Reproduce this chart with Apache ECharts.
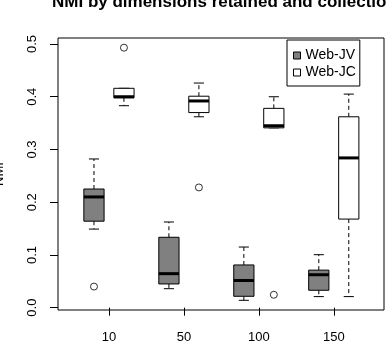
<!DOCTYPE html>
<html>
<head>
<meta charset="utf-8">
<script src="https://cdn.jsdelivr.net/npm/echarts@6/dist/echarts.min.js"></script>
<style>
  html, body { margin: 0; padding: 0; background: #fff; }
  #chart { width: 387px; height: 354px; }
</style>
</head>
<body>
<div id="chart"></div>
<script>
// dimensions retained (x groups)
const categories = ['10', '50', '100', '150'];
const yTicks = [0, 0.1, 0.2, 0.3, 0.4, 0.5];

// box stats per group: [lower whisker, Q1, median, Q3, upper whisker]
const jvStats = [
  [0.149, 0.164, 0.210, 0.225, 0.282],
  [0.036, 0.045, 0.0645, 0.1335, 0.1625],
  [0.014, 0.0216, 0.0515, 0.081, 0.115],
  [0.021, 0.033, 0.0625, 0.0712, 0.1005]
];
const jcStats = [
  [0.383, 0.398, 0.400, 0.416, 0.416],
  [0.362, 0.370, 0.392, 0.401, 0.426],
  [0.341, 0.341, 0.345, 0.378, 0.400],
  [0.021, 0.168, 0.284, 0.362, 0.405]
];
// outliers: [group index, value]
const jvOutliers = [[0, 0.040]];
const jcOutliers = [[0, 0.493], [1, 0.228], [2, 0.0245]];

const offset = 0.2;
const boxWidth = 0.27;

const chart = echarts.init(document.getElementById('chart'));

const boxData = (stats, dx) => stats.map((s, i) => [i + 1 + dx, ...s]);
const outData = (list, dx) => list.map(o => [o[0] + 1 + dx, o[1]]);

function renderBox(fill) {
  return (params, api) => {
    const x = api.value(0);
    const lo = api.coord([x, api.value(1)]);
    const q1 = api.coord([x, api.value(2)]);
    const md = api.coord([x, api.value(3)]);
    const q3 = api.coord([x, api.value(4)]);
    const hi = api.coord([x, api.value(5)]);
    const w = api.size([boxWidth, 0])[0];
    const cx = lo[0];
    const dash = { stroke: '#000', lineWidth: 1, lineDash: [4, 3] };
    const solid = { stroke: '#000', lineWidth: 1 };
    return {
      type: 'group',
      children: [
        { type: 'line', shape: { x1: cx, y1: q3[1], x2: cx, y2: hi[1] }, style: dash },
        { type: 'line', shape: { x1: cx, y1: q1[1], x2: cx, y2: lo[1] }, style: dash },
        { type: 'line', shape: { x1: cx - w / 4, y1: hi[1], x2: cx + w / 4, y2: hi[1] }, style: solid },
        { type: 'line', shape: { x1: cx - w / 4, y1: lo[1], x2: cx + w / 4, y2: lo[1] }, style: solid },
        { type: 'rect', shape: { x: cx - w / 2, y: q3[1], width: w, height: q1[1] - q3[1] },
          style: { fill: fill, stroke: '#000', lineWidth: 1 } },
        { type: 'line', shape: { x1: cx - w / 2, y1: md[1], x2: cx + w / 2, y2: md[1] },
          style: { stroke: '#000', lineWidth: 3 } }
      ]
    };
  };
}

const font = 'Liberation Sans';

const option = {
  animation: false,
  grid: {
    left: 58, top: 38, width: 326, height: 272,
    show: true, borderColor: '#000', borderWidth: 1, backgroundColor: 'transparent'
  },
  xAxis: {
    type: 'value',
    min: 0.32, max: 4.67,
    splitLine: { show: false },
    axisLine: { show: false },
    axisTick: { show: true, inside: false, length: 8, lineStyle: { color: '#000' }, customValues: [1, 2, 3, 4] },
    axisLabel: {
      customValues: [1, 2, 3, 4],
      formatter: v => categories[Math.round(v) - 1],
      color: '#000', fontFamily: font, fontSize: 13, margin: 21
    }
  },
  yAxis: {
    type: 'value',
    min: -0.0044, max: 0.5114,
    splitLine: { show: false },
    axisLine: { show: false },
    axisTick: { show: true, inside: false, length: 8, lineStyle: { color: '#000' }, customValues: yTicks },
    axisLabel: {
      customValues: yTicks,
      formatter: v => v.toFixed(1),
      rotate: 90,
      color: '#000', fontFamily: font, fontSize: 13, margin: 19
    }
  },
  legend: {
    orient: 'vertical',
    left: 287, top: 40,
    padding: [8, 4, 6, 6],
    borderColor: '#000', borderWidth: 1,
    itemWidth: 7, itemHeight: 7, itemGap: 2,
    textStyle: { color: '#000', fontFamily: font, fontSize: 14, lineHeight: 15 },
    data: [
      { name: 'Web-JV', icon: 'rect', itemStyle: { color: '#808080', borderColor: '#000', borderWidth: 1 } },
      { name: 'Web-JC', icon: 'rect', itemStyle: { color: '#fff', borderColor: '#000', borderWidth: 1 } }
    ]
  },
  graphic: [
    {
      type: 'text', left: 52, top: -6,
      style: { text: 'NMI by dimensions retained and collection', font: 'bold 17px ' + font, fill: '#000' }
    },
    {
      type: 'text', x: -1, y: 174, rotation: Math.PI / 2,
      style: { text: 'NMI', font: '13px ' + font, fill: '#000', align: 'center', verticalAlign: 'middle' }
    }
  ],
  series: [
    {
      name: 'Web-JV', type: 'custom',
      itemStyle: { color: '#808080' },
      renderItem: renderBox('#808080'),
      encode: { x: 0, y: [1, 2, 3, 4, 5] },
      data: boxData(jvStats, -offset)
    },
    {
      name: 'Web-JC', type: 'custom',
      itemStyle: { color: '#fff' },
      renderItem: renderBox('#fff'),
      encode: { x: 0, y: [1, 2, 3, 4, 5] },
      data: boxData(jcStats, offset)
    },
    {
      name: 'JV outliers', type: 'scatter',
      symbol: 'circle', symbolSize: 7,
      itemStyle: { color: '#fff', borderColor: '#000', borderWidth: 1 },
      data: outData(jvOutliers, -offset)
    },
    {
      name: 'JC outliers', type: 'scatter',
      symbol: 'circle', symbolSize: 7,
      itemStyle: { color: '#fff', borderColor: '#000', borderWidth: 1 },
      data: outData(jcOutliers, offset)
    }
  ]
};

chart.setOption(option);
</script>
</body>
</html>
